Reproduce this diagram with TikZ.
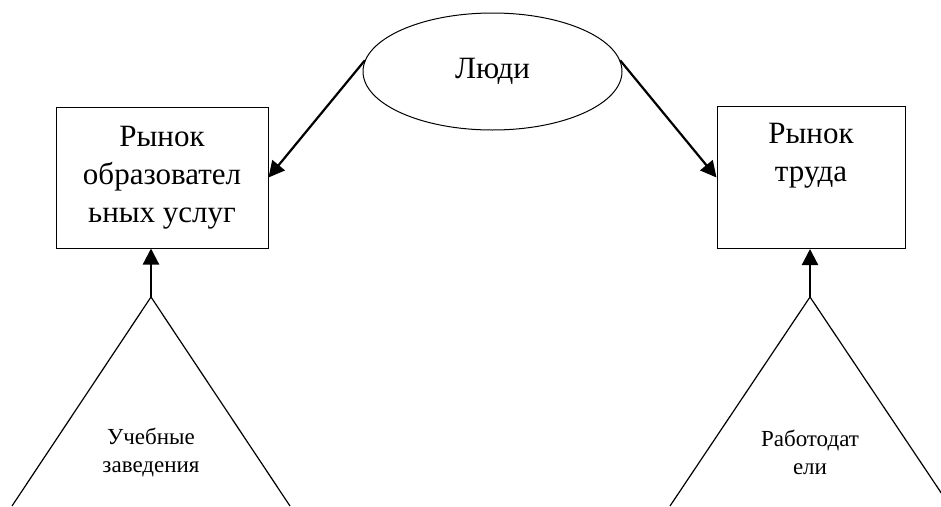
\documentclass[tikz,border=0pt]{standalone}
\usepackage{fontspec}
\setmainfont{Liberation Serif}
\usetikzlibrary{shapes.geometric,arrows.meta,positioning}

\begin{document}
\begin{tikzpicture}[x=1pt, y=-1pt,
  market/.style={draw, rectangle, line width=1pt, align=center, inner sep=0pt, font=\fontsize{31}{38}\selectfont},
  link/.style={-{Triangle[length=16pt,width=16pt]}, line width=2.2pt},
  side/.style={line width=1.2pt},
  small/.style={align=center, font=\fontsize{23}{28}\selectfont}]
\useasboundingbox (0,0) rectangle (941,506);
\clip (0,0) rectangle (941,506);

% People
\node[draw, ellipse, line width=1pt, minimum width=259pt, minimum height=117pt, inner sep=0pt, font=\fontsize{31}{38}\selectfont] (people) at (492.5,71.5) {Люди};

% Markets
\node[market, minimum width=212pt, minimum height=141pt] (edu) at (162,177.5) {Рынок\\образовател\\ьных услуг};
\node[market, minimum width=188pt, minimum height=142pt, right=448pt of edu] (labour) {Рынок\\труда\\\strut};

% Arrows from people
\draw[link] (people.175) -- (edu.east);
\draw[link] (people.5) -- (labour.west);

% Pyramids
\coordinate (eduapex) at (151,297);
\coordinate (labourapex) at (810,297);
\draw[side] (eduapex) -- ++(-139,209) (eduapex) -- ++(139,209);
\draw[side] (labourapex) -- ++(-140,209) (labourapex) -- ++(140,209);
\draw[link] (eduapex) -- (eduapex |- edu.south);
\draw[link] (labourapex) -- (labourapex |- labour.south);

% Labels
\node[small] (school) at (151,452) {Учебные\\заведения};
\node[small] (employer) at (810,452) {Работодат\\ели};
\end{tikzpicture}
\end{document}
